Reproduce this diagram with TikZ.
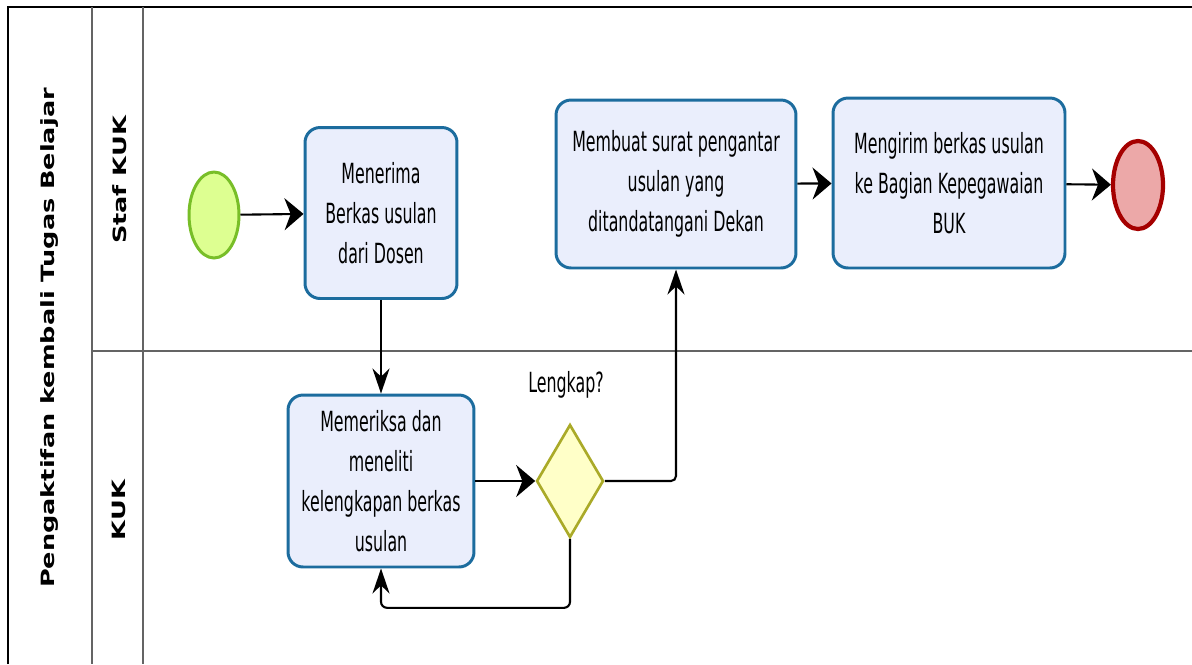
\documentclass[tikz,border=0pt]{standalone}
\usepackage{fontspec}
\setmainfont{DejaVu Sans}
\newfontfamily\taskfont{DejaVu Sans}[FakeStretch=0.57]
\newfontfamily\lanefont{DejaVu Sans}[FakeStretch=1.4]
\usetikzlibrary{arrows.meta,shapes.geometric}

\definecolor{taskfill}{RGB}{234,238,252}
\definecolor{taskline}{RGB}{28,108,158}
\definecolor{startfill}{RGB}{221,255,145}
\definecolor{startline}{RGB}{120,190,40}
\definecolor{endfill}{RGB}{236,168,168}
\definecolor{endline}{RGB}{165,0,0}
\definecolor{gatefill}{RGB}{255,255,200}
\definecolor{gateline}{RGB}{170,170,40}
\definecolor{laneline}{RGB}{100,100,100}

\tikzset{
  task/.style={draw=taskline, fill=taskfill, line width=1.7pt, rounded corners=0.3cm,
    align=center, inner sep=0pt, font=\taskfont\fontsize{15.8}{22.7}\selectfont},
  startev/.style={ellipse, draw=startline, fill=startfill, line width=1.7pt,
    minimum width=1cm, minimum height=1.72cm},
  endev/.style={ellipse, draw=endline, fill=endfill, line width=2.4pt,
    minimum width=1cm, minimum height=1.76cm},
  gateway/.style={diamond, draw=gateline, fill=gatefill, line width=1.5pt, inner sep=0pt,
    minimum width=1.34cm, minimum height=2.26cm},
  lanelabel/.style={rotate=90, font=\lanefont\fontsize{10.4}{12}\selectfont\bfseries},
  flow/.style={line width=1.2pt, -{Stealth[length=0.38cm,width=0.64cm]}},
  flowup/.style={line width=1.2pt, -{Stealth[length=0.5cm,width=0.34cm]}}
}

\begin{document}
\begin{tikzpicture}[x=0.02cm, y=-0.02cm]
\useasboundingbox (0,0) rectangle (1192,664);

% Pool and lanes
\draw[black, line width=1.4pt] (8,664) -- (8,7) -- (1192,7);
\draw[laneline, line width=1pt] (92,7) -- (92,664);
\draw[laneline, line width=1pt] (143,7) -- (143,664);
\draw[laneline, line width=1pt] (92,351) -- (1192,351);

\node[lanelabel] (pool) at (50,338) {Pengaktifan kembali Tugas Belajar};
\node[lanelabel] (lanestaf) at (120,180) {Staf KUK};
\node[lanelabel] (lanekuk) at (119,510) {KUK};

% Events
\node[startev] (start) at (214,215) {};
\node[endev] (finish) at (1138,185) {};

% Tasks
\node[task, minimum width=3.04cm, minimum height=3.42cm] (recv) at (381,213)
  {Menerima\\Berkas usulan\\dari Dosen};
\node[task, minimum width=3.72cm, minimum height=3.44cm] (check) at (381,481)
  {Memeriksa dan\\meneliti\\kelengkapan berkas\\usulan};
\node[task, minimum width=4.8cm, minimum height=3.36cm] (letter) at (676,184)
  {Membuat surat pengantar\\usulan yang\\ditandatangani Dekan};
\node[task, minimum width=4.64cm, minimum height=3.4cm] (send) at (949,183)
  {Mengirim berkas usulan\\ke Bagian Kepegawaian\\BUK};

% Gateway
\node[gateway] (gate) at (570,481) {};
\node[font=\taskfont\fontsize{15.8}{18}\selectfont] (gatelabel) at (566,385) {Lengkap?};

% Sequence flows
\draw[flow] (start) -- (recv);
\draw[flowup] (recv.south) -- (check.north);
\draw[flow] (check) -- (gate);
\draw[flowup, rounded corners=0.1cm] (gate.east) -| (letter.south);
\draw[flowup, rounded corners=0.12cm] (gate.south) -- ++(0,69) -| (check.south);
\draw[flow] (letter) -- (send);
\draw[flow] (send) -- (finish);
\end{tikzpicture}
\end{document}
